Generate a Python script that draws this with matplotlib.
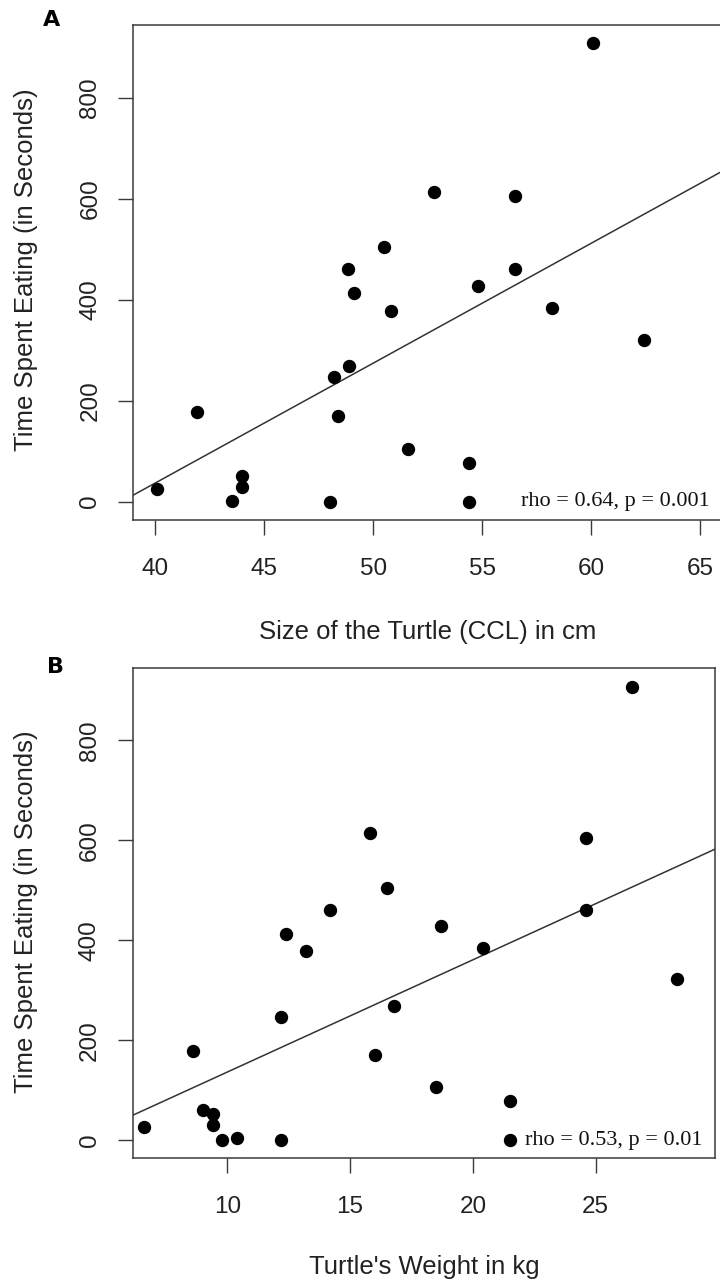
import matplotlib
matplotlib.use("Agg")
import matplotlib.pyplot as plt
import matplotlib.transforms as mtransforms

# Panel A: carapace length vs. feeding time
ccl_cm = [60.1, 52.8, 56.5, 50.5, 48.85, 56.5, 54.8, 49.1, 58.2, 50.8, 62.4,
          48.9, 48.2, 41.9, 48.4, 51.6, 54.4, 44.0, 44.0, 40.1, 43.5, 48.0, 54.4]
time_a = [908, 614, 605, 504, 461, 461, 428, 413, 383, 378, 321,
          269, 247, 177, 169, 105, 76, 51, 29, 25, 2, 0, 0]

# Panel B: body weight vs. feeding time
weight_kg = [26.5, 15.8, 24.6, 16.5, 14.2, 24.6, 18.7, 12.4, 20.4, 13.2, 28.3,
             16.8, 12.2, 8.6, 16.0, 18.5, 21.5, 9.0, 9.4, 9.4, 6.6, 10.4, 9.8, 12.2, 21.5]
time_b = [907, 614, 605, 504, 461, 461, 428, 412, 384, 379, 322,
          269, 247, 179, 171, 106, 78, 60, 53, 31, 27, 5, 0, 0, 0]

# Fitted regression lines (intercept, slope)
fit_a = (-913.1, 23.75)
fit_b = (-88.3, 22.46)

stats_a = "rho = 0.64, p = 0.001"
stats_b = "rho = 0.53, p = 0.01"

xticks_a = [40, 45, 50, 55, 60, 65]
xticks_b = [10, 15, 20, 25]
yticks = [0, 200, 400, 600, 800]

W, H = 720, 1285
fig = plt.figure(figsize=(W / 100, H / 100), dpi=100)

SANS = ["Liberation Sans", "DejaVu Sans"]
SERIF = ["Liberation Serif", "DejaVu Serif"]
AX_COLOR = "#3a3a3a"


def px_axes(left, top, right, bottom):
    return fig.add_axes([left / W, 1 - bottom / H, (right - left) / W, (bottom - top) / H])


def style(ax, xlim, xticks):
    ax.set_xlim(*xlim)
    ax.set_ylim(-36.3, 944.3)
    ax.set_xticks(xticks)
    ax.set_yticks(yticks)
    for side in ("top", "right", "left", "bottom"):
        ax.spines[side].set_color(AX_COLOR)
        ax.spines[side].set_linewidth(1.1)
    ax.tick_params(direction="out", length=11, width=1.0, color=AX_COLOR,
                   labelsize=17.5, labelcolor="#222222")
    ax.tick_params(axis="x", pad=16.5)
    ax.tick_params(axis="y", labelrotation=90, pad=12)
    for lab in ax.get_xticklabels() + ax.get_yticklabels():
        lab.set_family(SANS)
    for lab in ax.get_yticklabels():
        lab.set_verticalalignment("center")


def panel(ax, x, y, fit, stats, xlim, xticks):
    style(ax, xlim, xticks)
    ax.axline((0, fit[0]), slope=fit[1], color="#333333", lw=1.1, zorder=2)
    ax.plot(x, y, "o", color="black", markersize=8.6, zorder=3)
    ax.text(0.979, 0, stats, transform=mtransforms.blended_transform_factory(ax.transAxes, ax.transData),
            ha="right", va="center", fontsize=16, family=SERIF, color="#111111")


ax_a = px_axes(133.4, 25, 722, 520)
panel(ax_a, ccl_cm, time_a, fit_a, stats_a, (39.0, 66.0), xticks_a)

ax_b = px_axes(132.5, 668.3, 715, 1158.3)
panel(ax_b, weight_kg, time_b, fit_b, stats_b, (6.14, 29.86), xticks_b)


def ftext(x, y, s, **kw):
    fig.text(x / W, 1 - y / H, s, **kw)


lab_kw = dict(fontsize=18.5, family=SANS, color="#222222", ha="center", va="center")
ftext(428, 632, "Size of the Turtle (CCL) in cm", **lab_kw)
ftext(424, 1267, "Turtle's Weight in kg", **lab_kw)
ftext(26, 270, "Time Spent Eating (in Seconds)", rotation=90, **lab_kw)
ftext(26, 912, "Time Spent Eating (in Seconds)", rotation=90, **lab_kw)

ftext(52, 20, "A", fontsize=16, fontweight="bold", family=["DejaVu Sans"], ha="center", va="center")
ftext(55, 667, "B", fontsize=16, fontweight="bold", family=["DejaVu Sans"], ha="center", va="center")

fig.savefig("out.png", dpi=100, facecolor="white")
